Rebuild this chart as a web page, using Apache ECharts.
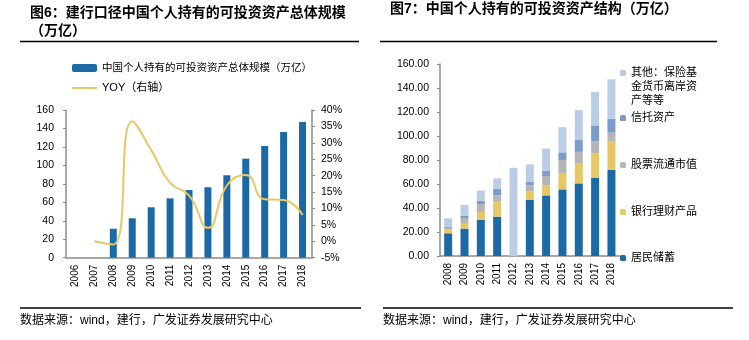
<!DOCTYPE html>
<html>
<head>
<meta charset="utf-8">
<script src="https://cdn.jsdelivr.net/npm/echarts@6/dist/echarts.min.js"></script>
<style>
html,body{margin:0;padding:0;background:#fff;}
#c{width:749px;height:340px;}
</style>
</head>
<body>
<div id="c"></div>
<script>
// ---- Figure 6 data ----
const years6 = ['2006','2007','2008','2009','2010','2011','2012','2013','2014','2015','2016','2017','2018'];
const scale6 = [null, null, 31.4, 42.7, 54.6, 64.3, 73.3, 76.3, 89.3, 107.3, 121.0, 136.2, 147.0];
const yoy6 = [null, 0.0, -1.0, 36.5, 27.8, 17.8, 14.0, 4.1, 17.0, 20.2, 12.8, 12.6, 8.0];
const leftTicks6 = [0, 160, 20];
const rightTicks6 = [-5, 40, 5];

// ---- Figure 7 data ----
const years7 = ['2008','2009','2010','2011','2012','2013','2014','2015','2016','2017','2018'];
const deposits7 = [18.9, 22.8, 30.0, 32.8, null, 47.0, 50.5, 55.5, 60.5, 65.3, 71.7];
const wealth7 = [3.0, 4.0, 6.7, 13.0, null, 6.6, 8.4, 13.7, 16.8, 20.3, 23.6];
const stock7 = [1.5, 4.8, 6.4, 4.7, null, 5.5, 7.8, 10.8, 9.5, 9.7, 7.5];
const trust7 = [1.0, 2.0, 2.9, 5.3, null, 3.0, 4.1, 6.4, 9.8, 13.5, 11.7];
const other7 = [7.0, 9.0, 8.6, 8.9, 73.5, 14.2, 18.7, 21.0, 25.0, 27.8, 32.8];
const ticks7 = [0, 160, 20];

const names = {
  scale: '中国个人持有的可投资资产总体规模（万亿）',
  yoy: 'YOY（右轴）',
  dep: '居民储蓄',
  wealth: '银行理财产品',
  stock: '股票流通市值',
  trust: '信托资产',
  other: '其他：保险基金货币离岸资产等等'
};

const CJK = '"Liberation Sans", "Noto Sans CJK SC", Arial, sans-serif';
const C = {
  blue: '#1C6AA5', yellow: '#E6C866', gray: '#B5B5B5', trust: '#7B9CCB', other: '#BACDE5', line: '#E8C764', axis: '#8C8C8C'
};

const chart = echarts.init(document.getElementById('c'), null, {renderer: 'canvas'});

function legendItem(name, left, top, w, h, extra) {
  return Object.assign({
    data: [name], left: left, top: top, orient: 'vertical', padding: 0,
    itemWidth: w, itemHeight: h, itemGap: 4, selectedMode: false,
    textStyle: {fontFamily: CJK, fontSize: 11, color: '#000', lineHeight: 14}
  }, extra || {});
}

const option = {
  animation: false,
  backgroundColor: '#fff',
  title: [
    {text: '图6：建行口径中国个人持有的可投资资产总体规模\n（万亿）', left: 30, top: 4, padding: 0,
     textStyle: {fontFamily: CJK, fontSize: 14, fontWeight: 'bold', color: '#000', lineHeight: 18}},
    {text: '图7：中国个人持有的可投资资产结构（万亿）', left: 390, top: 0, padding: 0,
     textStyle: {fontFamily: CJK, fontSize: 14, fontWeight: 'bold', color: '#000', lineHeight: 18}}
  ],
  legend: [
    legendItem(names.scale, 72, 61, 25, 8, {textStyle: {fontFamily: CJK, fontSize: 10.5, color: '#000', lineHeight: 14}}),
    legendItem(names.yoy, 72, 81, 25, 2, {icon: 'rect', textStyle: {fontFamily: CJK, fontSize: 11, color: '#000', lineHeight: 14}}),
    legendItem(names.other, 620, 38, 6, 6, {formatter: function(){return '\n\n其他：保险基\n金货币离岸资\n产等等';}}),
    legendItem(names.trust, 620, 111, 6, 6),
    legendItem(names.stock, 620, 158, 6, 6),
    legendItem(names.wealth, 620, 205, 6, 6),
    legendItem(names.dep, 620, 251, 6, 6)
  ],
  grid: [
    {left: 66, top: 110, width: 246, height: 147.7},
    {left: 440, top: 64, width: 179.6, height: 192}
  ],
  xAxis: [
    {type: 'category', gridIndex: 0, data: years6,
     axisLine: {lineStyle: {color: C.axis, width: 1.5}}, axisTick: {show: false},
     axisLabel: {rotate: 90, margin: 7, fontSize: 10, color: '#000', fontFamily: CJK}},
    {type: 'category', gridIndex: 1, data: years7,
     axisLine: {lineStyle: {color: C.axis, width: 1.5}}, axisTick: {show: false},
     axisLabel: {rotate: 90, margin: 7, fontSize: 10, color: '#000', fontFamily: CJK}}
  ],
  yAxis: [
    {type: 'value', gridIndex: 0, min: leftTicks6[0], max: leftTicks6[1], interval: leftTicks6[2],
     splitLine: {show: false},
     axisLine: {show: true, lineStyle: {color: C.axis, width: 1.5}},
     axisTick: {show: true, length: 3, lineStyle: {color: C.axis}},
     axisLabel: {margin: 12, fontSize: 10.5, color: '#000', fontFamily: CJK}},
    {type: 'value', gridIndex: 0, position: 'right', min: rightTicks6[0], max: rightTicks6[1], interval: rightTicks6[2],
     splitLine: {show: false},
     axisLine: {show: true, lineStyle: {color: C.axis, width: 1.5}},
     axisTick: {show: true, length: 3, lineStyle: {color: C.axis}},
     axisLabel: {margin: 9, fontSize: 10.5, color: '#000', fontFamily: CJK, formatter: function(v){return v + '%';}}},
    {type: 'value', gridIndex: 1, min: ticks7[0], max: ticks7[1], interval: ticks7[2],
     splitLine: {show: false},
     axisLine: {show: true, lineStyle: {color: C.axis, width: 1.5}},
     axisTick: {show: true, length: 3, lineStyle: {color: C.axis}},
     axisLabel: {margin: 11, fontSize: 10.5, color: '#000', fontFamily: CJK, formatter: function(v){return v.toFixed(2);}}}
  ],
  series: [
    {name: names.scale, type: 'bar', xAxisIndex: 0, yAxisIndex: 0, data: scale6, barWidth: 7,
     itemStyle: {color: C.blue}},
    {name: names.yoy, type: 'line', xAxisIndex: 0, yAxisIndex: 1, data: yoy6, smooth: 0.5,
     symbol: 'none', lineStyle: {color: C.line, width: 2}, itemStyle: {color: C.line}},
    {name: names.dep, type: 'bar', stack: 's', xAxisIndex: 1, yAxisIndex: 2, data: deposits7, barWidth: 8, itemStyle: {color: C.blue}},
    {name: names.wealth, type: 'bar', stack: 's', xAxisIndex: 1, yAxisIndex: 2, data: wealth7, barWidth: 8, itemStyle: {color: C.yellow}},
    {name: names.stock, type: 'bar', stack: 's', xAxisIndex: 1, yAxisIndex: 2, data: stock7, barWidth: 8, itemStyle: {color: C.gray}},
    {name: names.trust, type: 'bar', stack: 's', xAxisIndex: 1, yAxisIndex: 2, data: trust7, barWidth: 8, itemStyle: {color: C.trust}},
    {name: names.other, type: 'bar', stack: 's', xAxisIndex: 1, yAxisIndex: 2, data: other7, barWidth: 8, itemStyle: {color: C.other}}
  ],
  graphic: [
    {type: 'line', shape: {x1: 20, y1: 41.5, x2: 359, y2: 41.5}, style: {stroke: '#000', lineWidth: 1.3}},
    {type: 'line', shape: {x1: 380, y1: 41.5, x2: 717, y2: 41.5}, style: {stroke: '#000', lineWidth: 1.3}},
    {type: 'line', shape: {x1: 20, y1: 308, x2: 361, y2: 308}, style: {stroke: '#000', lineWidth: 1.3}},
    {type: 'line', shape: {x1: 383, y1: 308, x2: 733, y2: 308}, style: {stroke: '#000', lineWidth: 1.3}},
    {type: 'text', left: 20, top: 315, style: {text: '数据来源：wind，建行，广发证券发展研究中心', font: '12px "Liberation Sans", "Noto Sans CJK SC"', fill: '#000'}},
    {type: 'text', left: 383, top: 315, style: {text: '数据来源：wind，建行，广发证券发展研究中心', font: '12px "Liberation Sans", "Noto Sans CJK SC"', fill: '#000'}}
  ]
};
chart.setOption(option);
</script>
</body>
</html>
